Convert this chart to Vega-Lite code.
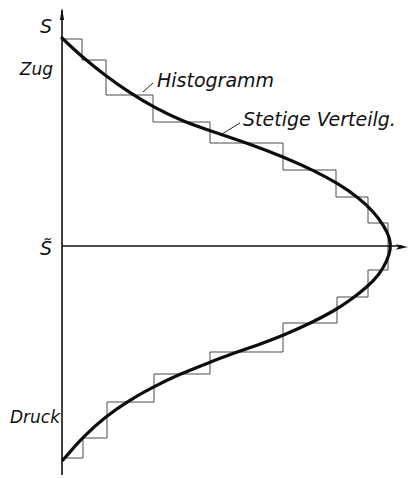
{
  "$schema": "https://vega.github.io/schema/vega-lite/v6.json",
  "width": 409,
  "height": 478,
  "padding": 0,
  "autosize": {"type": "none"},
  "background": "white",
  "config": {"view": {"stroke": null}},
  "datasets": {
    "axes": [
      {"h": 0, "S": 236, "h2": 0, "S2": -229},
      {"h": 0, "S": 0, "h2": 340, "S2": 0}
    ],
    "arrowUp": [{"h": 0, "S": 232}],
    "arrowRight": [{"h": 340, "S": -1}],
    "histogram": [
      {"k": 0, "h": 0, "S": 207},
      {"k": 1, "h": 20, "S": 186},
      {"k": 2, "h": 44, "S": 151},
      {"k": 3, "h": 91, "S": 124},
      {"k": 4, "h": 148, "S": 103},
      {"k": 5, "h": 221, "S": 76},
      {"k": 6, "h": 274, "S": 49},
      {"k": 7, "h": 306, "S": 23},
      {"k": 8, "h": 326, "S": -24},
      {"k": 9, "h": 306, "S": -51},
      {"k": 10, "h": 275, "S": -77},
      {"k": 11, "h": 221, "S": -106},
      {"k": 12, "h": 148, "S": -128},
      {"k": 13, "h": 92, "S": -156},
      {"k": 14, "h": 45, "S": -192},
      {"k": 15, "h": 21, "S": -212},
      {"k": 16, "h": 0, "S": -212}
    ],
    "curve": [
      {"h": 0, "S": 208},
      {"h": 20, "S": 189},
      {"h": 44, "S": 170},
      {"h": 68, "S": 153},
      {"h": 93, "S": 138},
      {"h": 120, "S": 125},
      {"h": 152, "S": 114},
      {"h": 188, "S": 102},
      {"h": 222, "S": 89},
      {"h": 253, "S": 75},
      {"h": 277, "S": 62},
      {"h": 297, "S": 48},
      {"h": 312, "S": 34},
      {"h": 322, "S": 20},
      {"h": 328, "S": 8},
      {"h": 329, "S": -3},
      {"h": 325, "S": -15},
      {"h": 317, "S": -29},
      {"h": 305, "S": -41},
      {"h": 290, "S": -53},
      {"h": 272, "S": -65},
      {"h": 249, "S": -77},
      {"h": 222, "S": -89},
      {"h": 196, "S": -99},
      {"h": 172, "S": -107},
      {"h": 146, "S": -117},
      {"h": 118, "S": -128},
      {"h": 91, "S": -141},
      {"h": 66, "S": -155},
      {"h": 43, "S": -171},
      {"h": 22, "S": -190},
      {"h": 7, "S": -207},
      {"h": 1, "S": -214}
    ],
    "leaders": [
      {"h": 91, "S": 163, "h2": 81, "S2": 154},
      {"h": 178, "S": 123, "h2": 160, "S2": 112}
    ],
    "axisLabels": [
      {"label": "S", "h": -10, "S": 213, "size": 19},
      {"label": "Zug", "h": -9, "S": 171, "size": 17},
      {"label": "S\u0303", "h": -10, "S": -9, "size": 19},
      {"label": "Druck", "h": -2, "S": -177, "size": 17}
    ],
    "curveLabels": [
      {"label": "Histogramm", "h": 95, "S": 159},
      {"label": "Stetige Verteilg.", "h": 181, "S": 120}
    ]
  },
  "encoding": {
    "x": {
      "field": "h",
      "type": "quantitative",
      "scale": {"domain": [-62, 347], "nice": false, "zero": false},
      "axis": null
    },
    "y": {
      "field": "S",
      "type": "quantitative",
      "scale": {"domain": [-232, 246], "nice": false, "zero": false},
      "axis": null
    }
  },
  "layer": [
    {
      "data": {"name": "histogram"},
      "mark": {"type": "line", "interpolate": "step-after", "stroke": "#4a4a4a", "strokeWidth": 1},
      "encoding": {"order": {"field": "k", "type": "quantitative"}}
    },
    {
      "data": {"name": "axes"},
      "mark": {"type": "rule", "stroke": "#111", "strokeWidth": 1.6},
      "encoding": {"x2": {"field": "h2"}, "y2": {"field": "S2"}}
    },
    {
      "data": {"name": "arrowUp"},
      "mark": {"type": "point", "shape": "M0,-1L-0.35,1L0.35,1Z", "size": 144, "filled": true, "color": "#111", "opacity": 1}
    },
    {
      "data": {"name": "arrowRight"},
      "mark": {"type": "point", "shape": "M1,0L-1,-0.45L-0.6,0L-1,0.45Z", "size": 144, "filled": true, "color": "#111", "opacity": 1}
    },
    {
      "data": {"name": "curve"},
      "mark": {"type": "line", "interpolate": "basis", "stroke": "#0d0d0d", "strokeWidth": 3.2, "strokeCap": "round"},
      "encoding": {"order": {"field": "S", "type": "quantitative", "sort": "descending"}}
    },
    {
      "data": {"name": "leaders"},
      "mark": {"type": "rule", "stroke": "#222", "strokeWidth": 1},
      "encoding": {"x2": {"field": "h2"}, "y2": {"field": "S2"}}
    },
    {
      "data": {"name": "axisLabels"},
      "mark": {"type": "text", "align": "right", "baseline": "alphabetic", "font": "DejaVu Sans", "fontStyle": "italic", "color": "#111"},
      "encoding": {
        "text": {"field": "label"},
        "size": {"field": "size", "type": "quantitative", "scale": null}
      }
    },
    {
      "data": {"name": "curveLabels"},
      "mark": {"type": "text", "align": "left", "baseline": "alphabetic", "font": "DejaVu Sans", "fontStyle": "italic", "fontSize": 19, "color": "#111"},
      "encoding": {"text": {"field": "label"}}
    }
  ]
}
